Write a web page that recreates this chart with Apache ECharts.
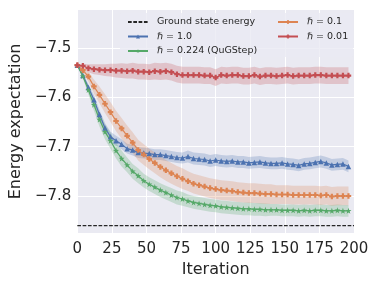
<!DOCTYPE html>
<html><head><meta charset="utf-8">
<script src="https://cdn.jsdelivr.net/npm/echarts@6/dist/echarts.min.js"></script>
<style>html,body{margin:0;padding:0;background:#fff}#c{width:379px;height:284px}</style>
</head><body><div id="c"></div><script>
const iterations = [0,4,8,12,16,20,24,28,32,36,40,44,48,52,56,60,64,68,72,76,80,84,88,92,96,100,104,108,112,116,120,124,128,132,136,140,144,148,152,156,160,164,168,172,176,180,184,188,192,196];
const groundState = -7.86;
const groundX = [0, 200];
const seriesNames = ['Ground state energy', 'ℏ = 1.0', 'ℏ = 0.224 (QuGStep)', 'ℏ = 0.1', 'ℏ = 0.01'];
const xTicks = [0,25,50,75,100,125,150,175,200];
const yTicks = [-7.8,-7.7,-7.6,-7.5];

const blueVals = [-7.535,-7.556,-7.580,-7.605,-7.635,-7.662,-7.680,-7.688,-7.695,-7.704,-7.707,-7.712,-7.713,-7.714,-7.716,-7.716,-7.718,-7.720,-7.722,-7.723,-7.720,-7.724,-7.725,-7.726,-7.729,-7.727,-7.729,-7.730,-7.729,-7.731,-7.731,-7.733,-7.732,-7.731,-7.733,-7.734,-7.734,-7.733,-7.735,-7.736,-7.738,-7.735,-7.734,-7.732,-7.730,-7.733,-7.737,-7.736,-7.735,-7.740];
const blueErr = [0,.004,.007,.009,.010,.010,.010,.010,.010,.010,.011,.011,.011,.011,.011,.011,.011,.011,.011,.011,.012,.012,.012,.012,.012,.012,.012,.012,.012,.012,.012,.012,.012,.012,.012,.012,.012,.012,.012,.012,.012,.012,.012,.012,.012,.012,.012,.012,.012,.012];
const greenVals = [-7.535,-7.557,-7.585,-7.615,-7.645,-7.670,-7.688,-7.708,-7.724,-7.737,-7.750,-7.759,-7.769,-7.776,-7.782,-7.788,-7.793,-7.798,-7.803,-7.806,-7.810,-7.813,-7.815,-7.817,-7.819,-7.820,-7.822,-7.823,-7.824,-7.825,-7.826,-7.826,-7.827,-7.827,-7.828,-7.828,-7.828,-7.829,-7.829,-7.829,-7.830,-7.829,-7.830,-7.829,-7.829,-7.830,-7.830,-7.829,-7.830,-7.830];
const greenErr = [0,.005,.009,.012,.014,.015,.016,.016,.016,.015,.015,.015,.014,.014,.014,.014,.014,.014,.014,.014,.013,.013,.013,.013,.013,.013,.013,.013,.013,.013,.013,.013,.013,.013,.013,.012,.012,.012,.012,.012,.012,.012,.012,.012,.012,.012,.012,.012,.012,.012];
const orangeVals = [-7.535,-7.545,-7.558,-7.578,-7.595,-7.613,-7.630,-7.648,-7.663,-7.678,-7.692,-7.707,-7.716,-7.725,-7.733,-7.741,-7.748,-7.754,-7.760,-7.765,-7.770,-7.775,-7.778,-7.781,-7.784,-7.786,-7.788,-7.789,-7.790,-7.792,-7.793,-7.794,-7.794,-7.795,-7.796,-7.796,-7.797,-7.797,-7.797,-7.798,-7.798,-7.798,-7.798,-7.798,-7.799,-7.798,-7.801,-7.800,-7.800,-7.800];
const orangeErr = [0,.005,.010,.014,.017,.019,.020,.021,.021,.021,.021,.021,.021,.021,.021,.021,.021,.021,.021,.021,.020,.020,.020,.020,.020,.020,.020,.020,.020,.020,.020,.020,.020,.020,.020,.020,.019,.019,.019,.019,.019,.019,.019,.019,.019,.019,.019,.019,.019,.019];
const redVals = [-7.535,-7.536,-7.541,-7.543,-7.544,-7.545,-7.545,-7.546,-7.546,-7.547,-7.546,-7.548,-7.548,-7.549,-7.547,-7.548,-7.547,-7.549,-7.553,-7.555,-7.555,-7.555,-7.555,-7.556,-7.556,-7.560,-7.555,-7.556,-7.555,-7.555,-7.557,-7.557,-7.555,-7.558,-7.556,-7.556,-7.557,-7.556,-7.555,-7.557,-7.556,-7.556,-7.556,-7.555,-7.555,-7.556,-7.556,-7.556,-7.556,-7.556];
const redErr = [0,.004,.008,.010,.011,.012,.013,.014,.015,.015,.016,.016,.016,.016,.017,.017,.017,.017,.017,.017,.017,.017,.017,.017,.017,.017,.017,.017,.017,.017,.017,.017,.017,.017,.017,.017,.017,.017,.017,.017,.017,.017,.017,.017,.017,.017,.017,.017,.017,.017];

const FONT = 'DejaVu Sans';
const TXT = '#262626';
const starPath = 'path://M0,-10 L2.35,-3.24 L9.51,-3.09 L3.8,1.24 L5.88,8.09 L0,4 L-5.88,8.09 L-3.8,1.24 L-9.51,-3.09 L-2.35,-3.24 Z';
const plusPath = 'path://M-1.2,-3 L1.2,-3 L1.2,-1.2 L3,-1.2 L3,1.2 L1.2,1.2 L1.2,3 L-1.2,3 L-1.2,1.2 L-3,1.2 L-3,-1.2 L-1.2,-1.2 Z';

function band(vals, err, color) {
  return {
    type:'custom', silent:true, z:1, clip:true,
    data: iterations.map((x,i)=>[x, vals[i]]),
    renderItem: function(params, api) {
      if (params.dataIndex !== 0) return null;
      const up = iterations.map((x,i)=>api.coord([x, vals[i]+err[i]]));
      const lo = iterations.map((x,i)=>api.coord([x, vals[i]-err[i]])).reverse();
      return {type:'polygon', shape:{points: up.concat(lo)}, style:{fill: color}};
    }
  };
}
function main(name, vals, color, symbol, size) {
  return {type:'line', name:name, z:3, data: iterations.map((x,i)=>[x, vals[i]]),
    symbol:symbol, symbolSize:size, showSymbol:true, color:color,
    itemStyle:{color:color}, lineStyle:{color:color, width:1.2}};
}

const series = [
  {type:'line', name:seriesNames[0], z:2, data: groundX.map(x=>[x, groundState]), symbol:'none',
   color:'#262626', lineStyle:{color:'#262626', width:1.2, type:[3.7,1.6]}},
  band(blueVals, blueErr, 'rgba(76,114,176,0.25)'),
  band(greenVals, greenErr, 'rgba(85,168,104,0.25)'),
  band(orangeVals, orangeErr, 'rgba(221,132,82,0.25)'),
  band(redVals, redErr, 'rgba(196,78,82,0.25)'),
  main(seriesNames[1], blueVals, '#4C72B0', 'triangle', 5.5),
  main(seriesNames[2], greenVals, '#55A868', starPath, 6),
  main(seriesNames[3], orangeVals, '#DD8452', plusPath, 5.5),
  main(seriesNames[4], redVals, '#C44E52', plusPath, 5.5)
];

const legendText = {
  color: TXT, fontFamily: FONT, fontSize: 9.5, lineHeight: 10, padding:[0,0,0,4],
  rich: { i: {fontStyle:'italic', fontFamily: FONT, fontSize: 9.5, color: TXT, lineHeight:10} }
};
const fmt = n => n.startsWith('ℏ') ? '{i|ℏ}' + n.slice(1) : n;
const legData1 = [{name: seriesNames[0], itemStyle:{opacity:0}}, {name: seriesNames[1]}, {name: seriesNames[2]}];
const legData2 = [{name: seriesNames[3]}, {name: seriesNames[4]}];

const chart = echarts.init(document.getElementById('c'), null, {renderer:'canvas'});
chart.setOption({
  animation:false,
  backgroundColor:'#ffffff',
  textStyle:{fontFamily:FONT},
  grid:{left:74, right:25, top:10, bottom:51, show:true, backgroundColor:'#EAEAF2', borderWidth:0},
  graphic:[{type:'rect', z:1, shape:{x:120, y:13, width:233, height:44, r:2},
    style:{fill:'rgba(234,234,242,0.8)'}}],
  legend:[
    {left:127, top:17, orient:'vertical', padding:0, itemGap:4.5, itemWidth:20, itemHeight:5,
     data: legData1, textStyle: legendText, formatter: fmt, z:5},
    {left:277, top:17, orient:'vertical', padding:0, itemGap:4.5, itemWidth:20, itemHeight:5,
     data: legData2, textStyle: legendText, formatter: fmt, z:5}
  ],
  xAxis:{type:'value', min:xTicks[0], max:xTicks[xTicks.length-1], interval:25,
    name:'Iteration', nameLocation:'middle', nameGap:22,
    nameTextStyle:{color:TXT, fontSize:16, fontFamily:FONT},
    axisLine:{show:false}, axisTick:{show:false},
    axisLabel:{color:TXT, fontSize:15, fontFamily:FONT, margin:9},
    splitLine:{show:true, lineStyle:{color:'#ffffff', width:1}}},
  yAxis:{type:'value', min:-7.875, max:-7.423,
    name:'Energy expectation', nameLocation:'middle', nameGap:46,
    nameTextStyle:{color:TXT, fontSize:16, fontFamily:FONT},
    axisLine:{show:false}, axisTick:{show:false, customValues:yTicks},
    axisLabel:{color:TXT, fontSize:15, fontFamily:FONT, margin:6, customValues:yTicks,
      formatter: v => v.toFixed(1).replace('-', '\u2212')},
    splitLine:{show:true, lineStyle:{color:'#ffffff', width:1}}},
  series: series
});
</script></body></html>
